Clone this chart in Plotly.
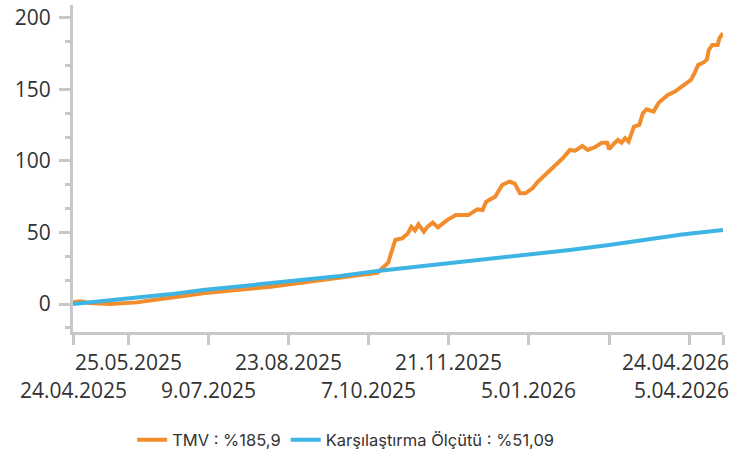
import plotly.graph_objects as go

# TMV cumulative return (%)
tmv_dates = [
    '2025-04-24', '2025-04-25', '2025-04-28', '2025-05-03', '2025-05-15', '2025-05-23',
    '2025-05-30', '2025-06-06', '2025-06-17', '2025-06-26', '2025-07-06', '2025-07-16',
    '2025-07-25', '2025-08-04', '2025-08-13', '2025-08-21', '2025-08-29', '2025-09-10',
    '2025-09-21', '2025-10-02', '2025-10-12', '2025-10-15', '2025-10-18', '2025-10-20',
    '2025-10-22', '2025-10-26', '2025-10-29', '2025-10-31', '2025-11-02', '2025-11-04',
    '2025-11-07', '2025-11-09', '2025-11-12', '2025-11-15', '2025-11-20', '2025-11-25',
    '2025-12-02', '2025-12-07', '2025-12-10', '2025-12-12', '2025-12-17', '2025-12-21',
    '2025-12-25', '2025-12-28', '2025-12-31', '2026-01-03', '2026-01-07', '2026-01-10',
    '2026-01-13', '2026-01-17', '2026-01-21', '2026-01-24', '2026-01-28', '2026-01-31',
    '2026-02-04', '2026-02-07', '2026-02-11', '2026-02-15', '2026-02-18', '2026-02-19',
    '2026-02-22', '2026-02-24', '2026-02-26', '2026-02-28', '2026-03-02', '2026-03-04',
    '2026-03-05', '2026-03-08', '2026-03-10', '2026-03-12', '2026-03-16', '2026-03-19',
    '2026-03-24', '2026-03-28', '2026-04-01', '2026-04-06', '2026-04-08', '2026-04-10',
    '2026-04-13', '2026-04-15', '2026-04-16', '2026-04-18', '2026-04-21', '2026-04-22',
    '2026-04-24',
]
tmv_values = [
    0, 1.5, 2, 0.8, 0, 0.5,
    1.2, 2.5, 4, 5.8, 7.5, 8.5,
    9.8, 11, 12.1, 13.3, 14.5, 16.3,
    18, 20.3, 21.9, 25, 29, 37,
    44.8, 46, 49.4, 54, 51.5, 55.7,
    50.6, 54, 56.9, 53.6, 58.7, 62.2,
    62.2, 66.2, 65.7, 71.5, 75, 83.2,
    85.5, 84.4, 77.4, 77.4, 80.9, 85.5,
    89, 93.7, 98.8, 101.9, 107.7, 107.2,
    110.5, 107.7, 109.6, 112.8, 112.8, 108.2,
    112.4, 114.7, 112.8, 115.9, 113.5, 119.4,
    124, 125.2, 133.4, 136.1, 134.5, 140.8,
    146.2, 148.5, 152, 156.6, 161.3, 167.1,
    168.7, 171, 177.6, 181.1, 181.1, 185.8,
    189.3,
]

# benchmark cumulative return (%)
bench_dates = [
    '2025-04-24', '2025-05-11', '2025-05-30', '2025-06-17', '2025-07-06', '2025-07-25',
    '2025-08-13', '2025-09-21', '2025-10-12', '2025-11-04', '2025-11-25', '2025-12-17',
    '2026-01-07', '2026-01-28', '2026-02-19', '2026-03-12', '2026-04-01', '2026-04-24',
]
bench_values = [
    0, 2.1, 4, 6.8, 9.8, 12.1,
    14.5, 19.6, 23.2, 26.3, 28.9, 32,
    34.3, 37.8, 41.3, 45.2, 48.7, 51.8,
]

# x axis ticks and their labels (two staggered rows)
tick_dates = ['2025-04-24', '2025-05-25', '2025-07-09', '2025-08-23', '2025-10-07',
              '2025-11-21', '2026-01-05', '2026-02-19', '2026-04-05', '2026-04-24']
row1_labels = [('2025-05-25', '25.05.2025'), ('2025-08-23', '23.08.2025'),
               ('2025-11-21', '21.11.2025')]
row2_labels = [('2025-04-24', '24.04.2025'), ('2025-07-09', '9.07.2025'),
               ('2025-10-07', '7.10.2025'), ('2026-01-05', '5.01.2026')]
end_labels = [('24.04.2026', -30), ('5.04.2026', -58)]

tmv_color = '#F28C2C'
bench_color = '#3DB4E4'
axis_color = '#C8C8C8'
text_color = '#333333'

fig = go.Figure()
fig.add_trace(go.Scatter(x=tmv_dates, y=tmv_values, mode='lines',
                         name='TMV : %185,9',
                         line=dict(color=tmv_color, width=4)))
fig.add_trace(go.Scatter(x=bench_dates, y=bench_values, mode='lines',
                         name='Karşılaştırma Ölçütü : %51,09',
                         line=dict(color=bench_color, width=4)))

annotations = []
for d, t in row1_labels:
    annotations.append(dict(x=d, y=0, xref='x', yref='paper', text=t, showarrow=False,
                            yanchor='middle', yshift=-30))
for d, t in row2_labels:
    annotations.append(dict(x=d, y=0, xref='x', yref='paper', text=t, showarrow=False,
                            yanchor='middle', yshift=-58))
for t, ys in end_labels:
    annotations.append(dict(x='2026-04-24', y=0, xref='x', yref='paper', text=t,
                            showarrow=False, xanchor='right', xshift=8,
                            yanchor='middle', yshift=ys))

fig.update_layout(
    width=741, height=453,
    margin=dict(l=73, r=18, t=5, b=121, autoexpand=False),
    plot_bgcolor='white', paper_bgcolor='white',
    font=dict(family='Open Sans', size=21, color=text_color),
    annotations=annotations,
    showlegend=True,
    legend=dict(orientation='h', x=0.091, xanchor='left', y=-0.330, yanchor='middle',
                font=dict(family='Inter', size=16.5, color=text_color),
                itemwidth=30),
)

fig.update_xaxes(
    type='date', range=['2025-04-24', '2026-04-24'], automargin=False,
    showgrid=False, zeroline=False,
    showline=True, linecolor=axis_color, linewidth=3,
    tickmode='array', tickvals=tick_dates, showticklabels=False,
    ticks='outside', ticklen=10, tickwidth=3, tickcolor=axis_color,
)
fig.update_yaxes(
    range=[-19.5, 209], automargin=False,
    showgrid=False, zeroline=False,
    showline=True, linecolor=axis_color, linewidth=3,
    tickvals=[0, 50, 100, 150, 200],
    ticks='outside', ticklen=11, tickwidth=2.5, tickcolor=axis_color,
    ticklabelstandoff=4,
    minor=dict(dtick=50 / 3, tick0=0, ticks='outside', ticklen=5, tickwidth=2.5,
               tickcolor=axis_color),
)

# the page body has a default 8px margin; drop it so the figure sits at 0,0
fig.write_html("out.html", config={'displayModeBar': False},
               post_script="document.body.style.margin='0';")
